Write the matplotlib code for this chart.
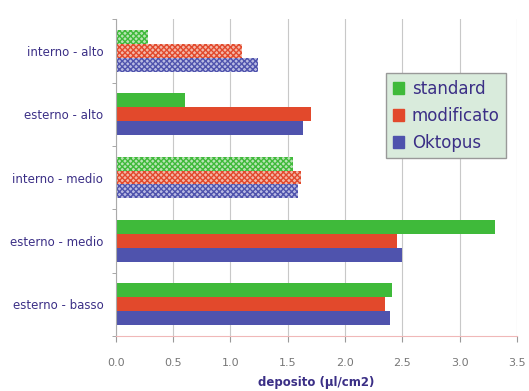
import numpy as np
from matplotlib import pyplot as plt

# categories from bottom to top
categories = ["esterno - basso", "esterno - medio", "interno - medio",
              "esterno - alto", "interno - alto"]
standard = [2.41, 3.31, 1.55, 0.60, 0.28]
modificato = [2.35, 2.45, 1.62, 1.70, 1.10]
oktopus = [2.39, 2.50, 1.59, 1.63, 1.24]
x_ticks = [0.0, 0.5, 1.0, 1.5, 2.0, 2.5, 3.0, 3.5]

# "interno" rows are drawn with a dotted fill
patterned = [c.startswith("interno") for c in categories]

green = "#3fba3a"
red = "#e2492c"
blue = "#4f53ad"
light = {green: "#b9e3b5", red: "#f3b7a8", blue: "#b9bbe2"}
text_col = "#3b2f86"

fig = plt.figure(figsize=(5.29, 3.91), dpi=100)
ax = fig.add_axes([0.219, 0.141, 0.758, 0.810])

h = 0.22
y = np.arange(len(categories))
series = [(standard, green, "standard", h),
          (modificato, red, "modificato", 0),
          (oktopus, blue, "Oktopus", -h)]

for vals, col, name, off in series:
    for i, v in enumerate(vals):
        if patterned[i]:
            ax.barh(y[i] + off, v, height=h, color=light[col], edgecolor=col,
                    hatch="xxxxxx", linewidth=0)
        else:
            ax.barh(y[i] + off, v, height=h, color=col, linewidth=0)

ax.set_xlim(0, 3.5)
ax.set_ylim(-0.5, len(categories) - 0.5)
ax.set_xticks(x_ticks)
ax.set_xticklabels(["%.1f" % t for t in x_ticks], fontsize=8,
                   color="#777777")
ax.set_yticks(y)
ax.set_yticklabels(categories, fontsize=8.5, color=text_col)
ax.set_yticks(np.arange(len(categories) + 1) - 0.5, minor=True)
ax.tick_params(axis="y", which="major", length=0, pad=9)
ax.tick_params(axis="y", which="minor", length=3, color="#999999")
ax.tick_params(axis="x", length=4, color="#999999", pad=12)

ax.grid(axis="x", color="#c8c8c8", linewidth=0.8)
ax.set_axisbelow(True)
for s in ["top", "right"]:
    ax.spines[s].set_visible(False)
ax.spines["left"].set_color("#aaaaaa")
ax.spines["bottom"].set_color("#f0b8b8")

ax.set_xlabel("deposito (µl/cm2)", fontsize=8.5, color=text_col,
              fontweight="bold", labelpad=6)

handles = [plt.Rectangle((0, 0), 1, 1, color=c) for _, c, _, _ in series]
leg = fig.legend(handles, [n for _, _, n, _ in series], loc="upper left",
                 bbox_to_anchor=(386 / 529, 1 - 73 / 391), fontsize=12,
                 frameon=True, fancybox=False, handlelength=0.7,
                 handleheight=0.7, handletextpad=0.45, labelspacing=0.54,
                 borderpad=0.4, borderaxespad=0)
leg.get_frame().set_facecolor("#d9ebdc")
leg.get_frame().set_edgecolor("#999999")
leg.get_frame().set_alpha(1)
for t in leg.get_texts():
    t.set_color(text_col)

fig.savefig("out.png", dpi=100)
